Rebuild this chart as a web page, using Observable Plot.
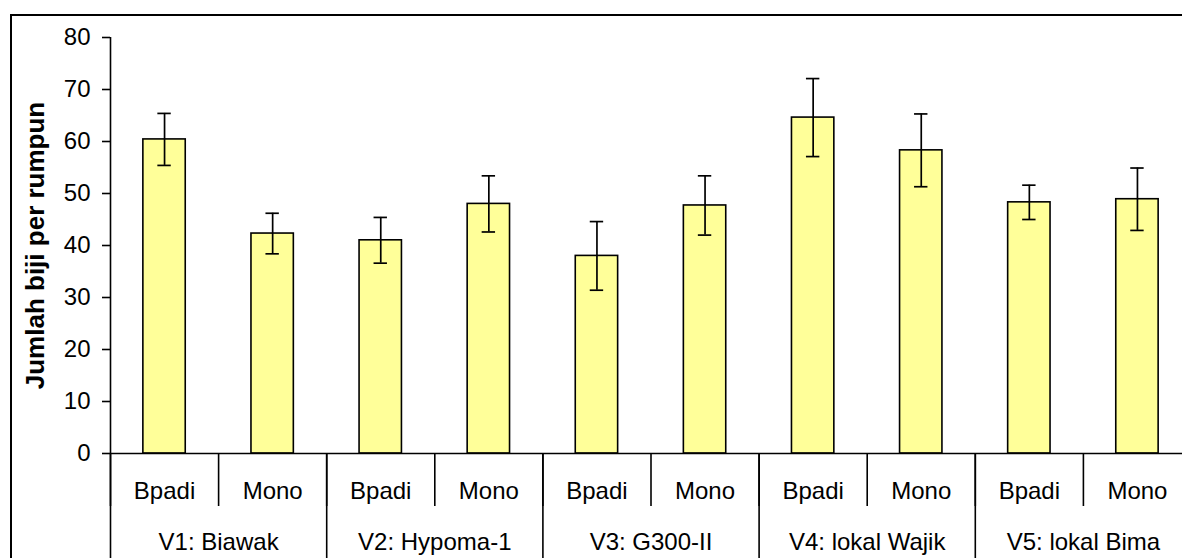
<!DOCTYPE html>
<html>
<head>
<meta charset="utf-8">
<script src="https://cdn.jsdelivr.net/npm/d3@7"></script>
<script src="https://cdn.jsdelivr.net/npm/@observablehq/plot@0.6"></script>
<style>
  html, body { margin: 0; padding: 0; background: #fff; overflow: hidden; }
  #wrap { position: absolute; left: 0; top: 0; width: 1182px; height: 558px; overflow: hidden; background: #fff; }
  #frame { position: absolute; left: 10px; top: 14px; width: 1300px; height: 700px; border-top: 2px solid #000; border-left: 2px solid #000; }
  #chart { position: absolute; left: 0; top: 0; width: 1200px; }
  #chart svg { max-width: none !important; }
</style>
</head>
<body>
<div id="wrap"><div id="frame"></div><div id="chart"></div></div>
<script>
const varieties = ["V1: Biawak", "V2: Hypoma-1", "V3: G300-II", "V4: lokal Wajik", "V5: lokal Bima"];
const methods = ["Bpadi", "Mono"];
const means = [60.4, 42.3, 41.0, 48.0, 38.0, 47.7, 64.6, 58.3, 48.3, 48.9];
const errors = [5.0, 3.9, 4.4, 5.4, 6.6, 5.7, 7.5, 7.0, 3.3, 6.0];
const yTicks = [0, 10, 20, 30, 40, 50, 60, 70, 80];
const yLabel = "Jumlah biji per rumpun";

const rows = [];
varieties.forEach((v, gi) => methods.forEach((m, mi) => {
  const i = gi * methods.length + mi;
  rows.push({i, variety: v, method: m, mean: means[i], err: errors[i]});
}));
const groups = varieties.map((v, gi) => ({gi, name: v}));
const nCat = rows.length;
const halfBar = 0.196, halfCap = 0.062;
const font = "'Liberation Sans', Arial, sans-serif";

const chart = Plot.plot({
  width: 1200,
  height: 600,
  marginLeft: 110,
  marginRight: 9,
  marginTop: 37,
  marginBottom: 147,
  style: {fontFamily: font, fontSize: "24px", color: "#000", background: "transparent", overflow: "visible", maxWidth: "none"},
  x: {type: "linear", domain: [0, nCat], axis: null},
  y: {domain: [0, 80], axis: null},
  marks: [
    Plot.rectY(rows, {x1: d => d.i + 0.5 - halfBar, x2: d => d.i + 0.5 + halfBar, y: "mean", fill: "#FFFF99", stroke: "#000", strokeWidth: 1.6}),
    Plot.ruleX(rows, {x: d => d.i + 0.5, y1: d => d.mean - d.err, y2: d => d.mean + d.err, stroke: "#000", strokeWidth: 1.7}),
    Plot.ruleY(rows, {y: d => d.mean + d.err, x1: d => d.i + 0.5 - halfCap, x2: d => d.i + 0.5 + halfCap, stroke: "#000", strokeWidth: 1.7}),
    Plot.ruleY(rows, {y: d => d.mean - d.err, x1: d => d.i + 0.5 - halfCap, x2: d => d.i + 0.5 + halfCap, stroke: "#000", strokeWidth: 1.7}),
    Plot.ruleY([0], {stroke: "#000", strokeWidth: 1.6}),
    Plot.ruleX([0], {y1: 0, y2: 80, stroke: "#000", strokeWidth: 1.6}),
    Plot.axisY({ticks: yTicks, tickSize: 8, tickPadding: 12, fontSize: 24, label: null, strokeWidth: 1.6}),
    Plot.axisX({ticks: d3.range(0, nCat + 1), tickSize: 53, tickFormat: () => "", label: null, strokeWidth: 1.6}),
    Plot.axisX({ticks: d3.range(0, nCat + 1, methods.length), tickSize: 160, tickFormat: () => "", label: null, strokeWidth: 1.6}),
    Plot.text(rows, {x: d => d.i + 0.5, text: "method", frameAnchor: "bottom", lineAnchor: "middle", textAnchor: "middle", dy: 38, fontSize: 24, fill: "#000"}),
    Plot.text(groups, {x: d => d.gi * methods.length + methods.length / 2, text: "name", frameAnchor: "bottom", lineAnchor: "middle", textAnchor: "middle", dy: 89, fontSize: 24, fill: "#000"}),
    Plot.text([yLabel], {text: d => d, frameAnchor: "left", rotate: -90, textAnchor: "middle", lineAnchor: "middle", dx: -75, fontSize: 26, fontWeight: "bold", fill: "#000"})
  ]
});
document.getElementById("chart").appendChild(chart);
</script>
</body>
</html>
